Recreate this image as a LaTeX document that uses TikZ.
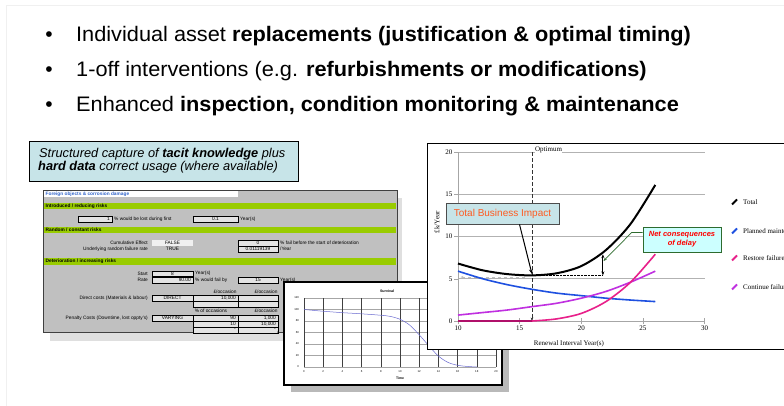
\documentclass[tikz,border=0pt]{standalone}
\usepackage{fontspec}
\setmainfont{Liberation Sans}
\newfontfamily\serifchart{Liberation Serif}
\usetikzlibrary{arrows.meta}
\definecolor{capfill}{HTML}{C7E4E8}
\definecolor{ssgray}{HTML}{C0C0C0}
\definecolor{ssgreen}{HTML}{99CC00}
\definecolor{ncfill}{HTML}{CCFFFF}
\definecolor{tbired}{HTML}{FF5A20}
\definecolor{restorec}{HTML}{E8208A}
\definecolor{continc}{HTML}{C030E0}
\definecolor{plannedc}{HTML}{1E50E0}
\definecolor{zeroc}{HTML}{B0106A}
\definecolor{darkgr}{HTML}{2E6B2E}
\definecolor{ssblue}{HTML}{3366CC}
\definecolor{survc}{HTML}{6A6AD0}
\tikzset{
  bul/.style={inner sep=0, font=\fontsize{21}{24}\selectfont},
  sstext/.style={inner sep=0, font=\fontsize{4.8}{5}\selectfont},
  ssbold/.style={inner sep=0, font=\fontsize{4.8}{5}\selectfont\bfseries},
  ssbox/.style={draw=black, line width=0.8pt, fill=gray!22},
  ticklab/.style={inner sep=0, font=\fontsize{7}{8}\serifchart},
  stick/.style={inner sep=0, font=\fontsize{2.8}{3}\selectfont},
  legmark/.style={line width=2pt},
  captext/.style={anchor=base west, inner sep=0, font=\fontsize{12.8}{14}\selectfont\itshape},
}
\begin{document}
\begin{tikzpicture}[x=1pt,y=-1pt]
\useasboundingbox (0,0) rectangle (784,405);
\fill[white] (0,0) rectangle (784,405);
\draw[gray!12] (6,5) rectangle (800,420);

% ---------- bullets ----------
\foreach \yy/\nm in {41.5/d1,76.5/d2,111/d3}{
  \node[bul, anchor=base] (\nm) at (49,\yy) {•};
}
\node[bul, anchor=base west] (b1) at (76,41.5) {\scalebox{1.035}[1]{Individual asset \textbf{replacements (justification \& optimal timing)}}};
\node[bul, anchor=base west] (b2) at (76,76.5) {\scalebox{1.035}[1]{1-off interventions (e.g. \textbf{refurbishments or modifications)}}};
\node[bul, anchor=base west] (b3) at (76,111) {\scalebox{1.035}[1]{Enhanced \textbf{inspection, condition monitoring \& maintenance}}};

% ---------- caption box ----------
\node[draw=black, line width=0.8pt, fill=capfill, minimum width=269pt, minimum height=40pt, inner sep=0] (cap) at (163.5,161) {};
\node[captext] (cap1) at (39,157.5) {Structured capture of \textbf{tacit knowledge} plus};
\node[captext] (cap2) at (38,170.5) {\textbf{hard data} correct usage (where available)};

% ---------- spreadsheet ----------
\fill[gray!25] (50,198) rectangle (402,341);
\draw[fill=ssgray, draw=black!75, line width=1pt] (43,190) rectangle (397,332);
\fill[white] (44,191) rectangle (238,197);
\node[ssbold, text=ssblue, anchor=west] (t0) at (45.5,194) {Foreign objects \& corrosion damage};
\fill[ssgreen] (44,203) rectangle (396,209);
\node[ssbold, anchor=west] (g1) at (45.5,206) {Introduced / reducing risks};
\fill[ssgreen] (44,227) rectangle (396,233);
\node[ssbold, anchor=west] (g2) at (45.5,230) {Random / constant risks};
\fill[ssgreen] (44,258) rectangle (396,265);
\node[ssbold, anchor=west] (g3) at (45.5,261.5) {Deterioration / increasing risks};

\draw[ssbox] (78,216) rectangle (112,222);
\node[sstext, anchor=east] (v1) at (110,219) {1};
\node[sstext, anchor=west] (l1) at (114,219) {\% would be lost during first};
\draw[ssbox] (193,216) rectangle (238,222);
\node[sstext] (v2) at (215.5,219) {0.1};
\node[sstext, anchor=west] (l2) at (240,219) {Year(s)};

\node[sstext, anchor=east] (l3) at (148,243) {Cumulative Effect};
\fill[gray!12] (152,240) rectangle (193,246);
\node[sstext] (v3) at (172.5,243) {FALSE};
\node[sstext, anchor=east] (l4) at (148,249) {Underlying random failure rate};
\node[sstext] (v4) at (172.5,249) {TRUE};
\draw[ssbox] (238,240) rectangle (278,246);
\node[sstext] (v5) at (258,243) {0};
\draw[ssbox] (238,246) rectangle (278,252);
\node[sstext] (v6) at (258,249) {0.01119139};
\node[sstext, anchor=west] (l5) at (280,243) {\% fail before the start of deterioration};
\node[sstext, anchor=west] (l6) at (280,249) {/Year};

\node[sstext, anchor=east] (l7) at (148,273.5) {Start};
\draw[ssbox] (152,271) rectangle (193,276.5);
\node[sstext] (v7) at (172.5,273.7) {8};
\node[sstext, anchor=west] (l8) at (195,273.5) {Year(s)};
\node[sstext, anchor=east] (l9) at (148,280) {Rate};
\draw[ssbox] (152,277) rectangle (193,283);
\node[sstext, anchor=east] (v8) at (191,280) {90.00};
\node[sstext, anchor=west] (l10) at (195,280) {\% would fail by};
\draw[ssbox] (238,277) rectangle (278,283);
\node[sstext] (v9) at (258,280) {15};
\node[sstext, anchor=west] (l11) at (280,280) {Year(s)};

\node[sstext] (h1) at (225,292) {£/occasion};
\node[sstext] (h2) at (266,292) {£/occasion};
\node[sstext, anchor=east] (l12) at (148,298) {Direct costs (Materials \& labour)};
\draw[ssbox] (152,295) rectangle (193,301);
\node[sstext] (v10) at (172.5,298) {DIRECT};
\draw[ssbox] (193,295) rectangle (238,301);
\node[sstext, anchor=east] (v11) at (236,298) {10,000};
\draw[ssbox] (238,295) rectangle (278,301);
\draw[ssbox] (193,301) rectangle (238,307);
\draw[ssbox] (238,301) rectangle (278,307);

\node[sstext] (h3) at (211,311) {\% of occasions};
\node[sstext] (h4) at (266,311) {£/occasion};
\node[sstext, anchor=east] (l13) at (148,318) {Penalty Costs (Downtime, lost oppty's)};
\draw[ssbox] (152,315) rectangle (193,321);
\node[sstext] (v12) at (172.5,318) {VARYING};
\draw[ssbox] (193,315) rectangle (238,321);
\node[sstext, anchor=east] (v13) at (236,318) {90};
\draw[ssbox] (238,315) rectangle (278,321);
\node[sstext, anchor=east] (v14) at (276,318) {1,000};
\draw[ssbox] (193,321) rectangle (238,327);
\node[sstext, anchor=east] (v15) at (236,324) {10};
\draw[ssbox] (238,321) rectangle (278,327);
\node[sstext, anchor=east] (v16) at (276,324) {10,000};
\draw[ssbox] (193,327) rectangle (238,333);
\node[sstext, anchor=east] (v17) at (236,330) {-};
\draw[ssbox] (238,327) rectangle (278,333);
\node[sstext, anchor=east] (v18) at (276,330) {-};

% ---------- survival chart ----------
\fill[gray!55] (291,290) rectangle (509,392);
\draw[fill=white, line width=1.1pt] (284,282) rectangle (502,385);
\node[stick, font=\fontsize{3.6}{4}\selectfont\bfseries] (stitle) at (387,291) {Survival};
\begin{scope}[shift={(304,367)}, x=9.6pt, y=0.575pt]
  \foreach \v in {0,20,...,120}{
    \draw[gray!70, line width=0.5pt] (0,\v) -- (20,\v);
    \node[stick, anchor=east] at (-0.5,\v) {\v};
  }
  \foreach \t in {0,2,...,20}{
    \draw[black!75, line width=0.35pt] (\t,0) -- (\t,120);
    \node[stick, anchor=north] at (\t,-5) {\t};
  }
  \draw[survc, line width=0.5pt] plot[smooth] coordinates {(0,100) (2,97) (4,94.5) (6,92.5) (8,90) (9,88) (10,83) (11,73) (12,56) (13,37) (14,19) (15,8) (16,3) (17,1) (18,0)};
  \node[stick, font=\fontsize{3.4}{4}\selectfont\bfseries] (stime) at (10,-20) {Time};
  \node[stick, rotate=90] (sylab) at (-2.7,60) {\%};
\end{scope}

% ---------- big chart ----------
\draw[fill=white, line width=1pt] (427,143) rectangle (800,349);
\begin{scope}[shift={(334.7,321)}, x=12.33pt, y=8.45pt]
  \foreach \v in {5,10,15,20}{
    \draw[gray!60, line width=0.6pt] (10,\v) -- (30,\v);
  }
  \foreach \v in {0,5,10,15,20}{
    \draw[gray!70, line width=0.5pt] (9.7,\v) -- (10,\v);
    \node[ticklab, anchor=east] at (9.55,\v) {\v};
  }
  \draw[gray!70, line width=0.6pt] (10,0) -- (10,20);
  \draw[gray!70, line width=0.6pt] (10,0) -- (30,0);
  \foreach \t in {10,15,20,25,30}{
    \draw[gray!70, line width=0.5pt] (\t,-0.3) -- (\t,0.3);
    \node[ticklab, anchor=north] at (\t,-0.5) {\t};
  }
  \node[ticklab, anchor=north] (xlab) at (19,-2.3) {Renewal Interval Year(s)};
  \node[ticklab, rotate=90] (ylab) at (8.3,11.7) {£k/Year};
  \draw[gray!50, dashed, line width=0.8pt, {Stealth[length=3pt]}-] (10.2,5.2) -- (15.5,5.2);
  % optimum line
  \coordinate (optbot) at (16,0);
  \coordinate (opttop) at (16,20);
  \draw[black!80, dashed, dash pattern=on 4pt off 2pt, line width=0.5pt, -{Stealth[length=3.5pt]}] (opttop) -- (optbot);
  \node[ticklab, anchor=south west, fill=white, inner sep=0.5pt] (optlab) at (16.2,19.75) {Optimum};
  % curves
  \draw[plannedc, line width=1.6pt] plot[smooth] coordinates {(10,5.9) (12,5.0) (14,4.3) (16,3.75) (18,3.3) (20,3.0) (22,2.7) (24,2.48) (26,2.3)};
  \draw[continc, line width=1.6pt] plot[smooth] coordinates {(10,0.7) (12,1.0) (14,1.3) (16,1.7) (18,2.1) (20,2.7) (22,3.5) (24,4.6) (26,5.9)};
  \draw[restorec, line width=1.6pt] plot[smooth] coordinates {(16,0) (18,0.25) (20,0.9) (22,2.3) (24,4.6) (26,7.9)};
  \draw[zeroc, line width=2pt] (10,0) -- (16,0);
  \draw[black, line width=2pt] plot[smooth] coordinates {(10,6.8) (12,6.0) (14,5.55) (16,5.4) (18,5.65) (20,6.5) (22,8.4) (24,11.5) (26,16.1)};
  \coordinate (optmin) at (16,5.55);
  \coordinate (dashend) at (21.75,5.4);
  \coordinate (arrtop) at (21.75,7.9);
  \coordinate (delaytip) at (21.8,7.1);
  \draw[black, dashed, dash pattern=on 2.5pt off 1pt, line width=1pt] (16,5.4) -- (dashend);
  \draw[black, line width=1pt, {Stealth[length=4pt]}-{Stealth[length=4pt]}] (dashend) -- (arrtop);
\end{scope}

% legend
\foreach \yy/\cc/\nm/\tx in {202/black/lg1/Total, 231/plannedc/lg2/Planned maintenance, 258/restorec/lg3/Restore failures, 287/continc/lg4/Continue failures}{
  \draw[\cc, legmark] (732,\yy+2.5) -- (737,\yy-2.5);
  \node[ticklab, anchor=west] (\nm) at (743,\yy) {\tx};
}

% annotation boxes
\node[draw=black!70, line width=0.8pt, fill=capfill, minimum width=113pt, minimum height=21pt, inner sep=0, text=tbired, font=\fontsize{10}{12}\selectfont] (tbi) at (502.5,213.5) {Total Business Impact};
\draw[black, line width=1pt, -{Stealth[length=5pt]}] ([xshift=17pt]tbi.south) -- (optmin);

\node[draw=darkgr, line width=0.8pt, fill=ncfill, minimum width=78pt, minimum height=25pt, inner sep=0, align=center, text=red, font=\fontsize{7.5}{9}\selectfont\bfseries\itshape] (ncd) at (682,239.5) {Net consequences\\of delay};
\draw[darkgr, line width=0.7pt, -{Stealth[length=3.5pt]}] (ncd.170) -- ++(-11,0) -- (delaytip);
\end{tikzpicture}
\end{document}
